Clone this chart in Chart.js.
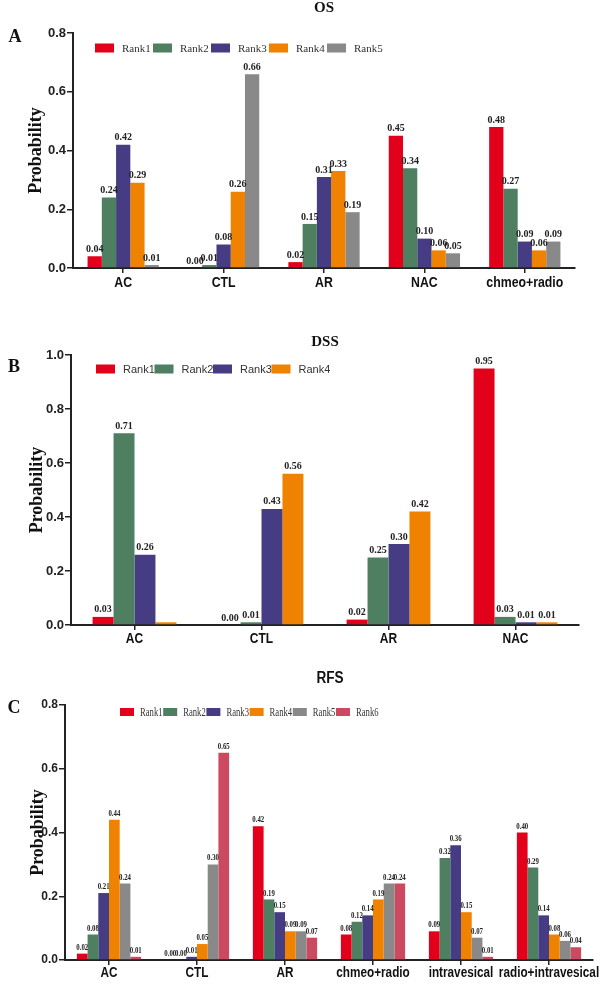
<!DOCTYPE html>
<html lang="en">
<head>
  <meta charset="UTF-8">
  <title>Rank probabilities</title>
  <script src="https://cdn.jsdelivr.net/npm/chart.js@4.4.1/dist/chart.umd.min.js"></script>
  <style>
    body { margin: 0; background: #fff; }
    #page { position: relative; width: 600px; height: 987px; }
    .panel { position: absolute; left: 0; }
  </style>
</head>
<body>
  <div id="page">
    <div class="panel" style="top:0"><canvas id="chartA" width="600" height="300"></canvas></div>
    <div class="panel" style="top:300px"><canvas id="chartB" width="600" height="360"></canvas></div>
    <div class="panel" style="top:660px"><canvas id="chartC" width="600" height="327"></canvas></div>
  </div>

  <script>
    // colours per rank
    const rankColors = ['#E2001A', '#4E7F60', '#463C84', '#EF8200', '#898989', '#CB4A5F'];
    const rankNames = ['Rank1', 'Rank2', 'Rank3', 'Rank4', 'Rank5', 'Rank6'];

    // A - OS
    const osCategories = ['AC', 'CTL', 'AR', 'NAC', 'chmeo+radio'];
    const osRank1 = [0.04, 0.00, 0.02, 0.45, 0.48];
    const osRank2 = [0.24, 0.01, 0.15, 0.34, 0.27];
    const osRank3 = [0.42, 0.08, 0.31, 0.10, 0.09];
    const osRank4 = [0.29, 0.26, 0.33, 0.06, 0.06];
    const osRank5 = [0.01, 0.66, 0.19, 0.05, 0.09];
    const osTicks = [0, 0.2, 0.4, 0.6, 0.8];

    // B - DSS
    const dssCategories = ['AC', 'CTL', 'AR', 'NAC'];
    const dssRank1 = [0.03, 0.00, 0.02, 0.95];
    const dssRank2 = [0.71, 0.01, 0.25, 0.03];
    const dssRank3 = [0.26, 0.43, 0.30, 0.01];
    const dssRank4 = [0.01, 0.56, 0.42, 0.01];
    const dssTicks = [0, 0.2, 0.4, 0.6, 0.8, 1.0];
    const dssNoLabel = [[3, 0]]; // rank4 / AC has no number printed

    // C - RFS
    const rfsCategories = ['AC', 'CTL', 'AR', 'chmeo+radio', 'intravesical', 'radio+intravesical'];
    const rfsRank1 = [0.02, 0.00, 0.42, 0.08, 0.09, 0.40];
    const rfsRank2 = [0.08, 0.00, 0.19, 0.12, 0.32, 0.29];
    const rfsRank3 = [0.21, 0.01, 0.15, 0.14, 0.36, 0.14];
    const rfsRank4 = [0.44, 0.05, 0.09, 0.19, 0.15, 0.08];
    const rfsRank5 = [0.24, 0.30, 0.09, 0.24, 0.07, 0.06];
    const rfsRank6 = [0.01, 0.65, 0.07, 0.24, 0.01, 0.04];
    const rfsTicks = [0, 0.2, 0.4, 0.6, 0.8];

    const SANS = "'Liberation Sans', Arial, sans-serif";
    const SERIF = "'Liberation Serif', 'Times New Roman', serif";

    // draw text squeezed horizontally (the figure uses condensed faces)
    function squeezedText(ctx, text, x, y, sq) {
      ctx.save();
      ctx.translate(x, y);
      ctx.scale(sq || 1, 1);
      ctx.fillText(text, 0, 0);
      ctx.restore();
    }

    // numbers on top of the bars
    const valueLabels = {
      id: 'valueLabels',
      afterDatasetsDraw(chart, args, opts) {
        const ctx = chart.ctx;
        ctx.save();
        ctx.font = opts.font;
        ctx.fillStyle = '#222';
        ctx.textAlign = 'center';
        ctx.textBaseline = 'bottom';
        chart.data.datasets.forEach((ds, i) => {
          chart.getDatasetMeta(i).data.forEach((bar, j) => {
            if ((opts.skip || []).some(s => s[0] === i && s[1] === j)) return;
            squeezedText(ctx, ds.data[j].toFixed(2), bar.x, bar.y - 2, opts.squeeze);
          });
        });
        ctx.restore();
      }
    };

    // panel letter, title, category names and the legend row inside the plot
    const panelDeco = {
      id: 'panelDeco',
      afterDraw(chart, args, o) {
        const ctx = chart.ctx;
        ctx.save();
        ctx.fillStyle = '#111';
        ctx.textBaseline = 'middle';
        ctx.textAlign = 'center';
        ctx.font = 'bold 18px ' + SERIF;
        ctx.fillText(o.letter, o.letterX, o.letterY);
        ctx.font = o.titleFont;
        squeezedText(ctx, o.title, o.titleX, o.titleY, o.titleSqueeze);

        // category names under the tick marks
        const xs = chart.scales.x;
        ctx.font = o.xFont;
        chart.data.labels.forEach((lab, i) => {
          squeezedText(ctx, lab, xs.getPixelForTick(i), xs.top + o.xDy, o.xSqueeze);
        });

        const lg = o.legend;
        ctx.textAlign = 'left';
        ctx.font = lg.font;
        chart.data.datasets.forEach((ds, i) => {
          const x = lg.x + i * lg.step;
          ctx.fillStyle = ds.backgroundColor;
          ctx.fillRect(x, lg.y - lg.boxH / 2, lg.boxW, lg.boxH);
          ctx.fillStyle = '#333';
          squeezedText(ctx, ds.label, x + lg.boxW + lg.gap, lg.y + 1, lg.squeeze);
        });
        ctx.restore();
      }
    };

    function makeDatasets(series) {
      return series.map((data, i) => ({
        label: rankNames[i],
        data: data,
        backgroundColor: rankColors[i],
        borderWidth: 0
      }));
    }

    function drawPanel(id, p) {
      new Chart(document.getElementById(id), {
        type: 'bar',
        data: { labels: p.categories, datasets: makeDatasets(p.series) },
        plugins: [valueLabels, panelDeco],
        options: {
          responsive: false,
          animation: false,
          events: [],
          datasets: { bar: { categoryPercentage: p.catPct, barPercentage: 1 } },
          layout: { padding: p.padding },
          plugins: {
            legend: { display: false },
            tooltip: { enabled: false },
            title: { display: false },
            valueLabels: { font: p.valueFont, squeeze: p.valueSqueeze, skip: p.skip },
            panelDeco: p.deco
          },
          scales: {
            x: {
              grid: { display: true, offset: false, drawOnChartArea: false, drawTicks: true, tickLength: 5, color: '#222', lineWidth: 1.5 },
              border: { display: true, color: '#222', width: 2 },
              ticks: { display: false, autoSkip: false },
              afterFit(scale) { scale.height = p.xHeight; scale.paddingLeft = 0; scale.paddingRight = 0; }
            },
            y: {
              min: 0,
              max: p.ticks[p.ticks.length - 1],
              afterBuildTicks(scale) { scale.ticks = p.ticks.map(v => ({ value: v })); },
              grid: { display: true, drawOnChartArea: false, drawTicks: true, tickLength: 6, color: '#222', lineWidth: 1.5 },
              border: { display: true, color: '#222', width: 2 },
              ticks: {
                color: '#222',
                font: { family: SANS, size: p.yFontSize, weight: 'bold' },
                padding: 1,
                callback: v => Number(v).toFixed(1)
              },
              title: {
                display: true,
                text: 'Probability',
                color: '#111',
                font: { family: SERIF, size: 18, weight: 'bold' },
                padding: 0
              },
              afterFit(scale) { scale.width = p.yWidth; }
            }
          }
        }
      });
    }

    drawPanel('chartA', {
      categories: osCategories,
      series: [osRank1, osRank2, osRank3, osRank4, osRank5],
      ticks: osTicks,
      catPct: 0.71,
      padding: { left: 26, right: 25, top: 33, bottom: 2 },
      yWidth: 47, xHeight: 30, yFontSize: 13,
      valueFont: 'bold 10px ' + SERIF,
      deco: {
        letter: 'A', letterX: 15, letterY: 37,
        title: 'OS', titleX: 324, titleY: 8, titleFont: 'bold 15px ' + SERIF,
        xFont: 'bold 15px ' + SANS, xDy: 15, xSqueeze: 0.82,
        legend: { x: 95, y: 48, step: 58, boxW: 19, boxH: 9, gap: 8, font: '11px ' + SERIF }
      }
    });

    drawPanel('chartB', {
      categories: dssCategories,
      series: [dssRank1, dssRank2, dssRank3, dssRank4],
      ticks: dssTicks,
      catPct: 0.66,
      padding: { left: 27, right: 21, top: 55, bottom: 5 },
      yWidth: 44, xHeight: 30, yFontSize: 13,
      valueFont: 'bold 10px ' + SERIF,
      skip: dssNoLabel,
      deco: {
        letter: 'B', letterX: 14, letterY: 67,
        title: 'DSS', titleX: 325, titleY: 42, titleFont: 'bold 15px ' + SERIF,
        xFont: 'bold 15px ' + SANS, xDy: 14, xSqueeze: 0.8,
        legend: { x: 96, y: 69, step: 58.5, boxW: 19, boxH: 9, gap: 8, font: '11px ' + SANS }
      }
    });

    drawPanel('chartC', {
      categories: rfsCategories,
      series: [rfsRank1, rfsRank2, rfsRank3, rfsRank4, rfsRank5, rfsRank6],
      ticks: rfsTicks,
      catPct: 0.73,
      padding: { left: 28, right: 7, top: 45, bottom: 3 },
      yWidth: 37, xHeight: 24, yFontSize: 12,
      valueFont: 'bold 8px ' + SERIF, valueSqueeze: 0.85,
      deco: {
        letter: 'C', letterX: 14, letterY: 48,
        title: 'RFS', titleX: 330, titleY: 19, titleFont: 'bold 16px ' + SANS, titleSqueeze: 0.85,
        xFont: 'bold 14px ' + SANS, xDy: 13, xSqueeze: 0.84,
        legend: { x: 120, y: 52, step: 43.2, boxW: 14, boxH: 8, gap: 6, font: '12px ' + SERIF, squeeze: 0.72 }
      }
    });
  </script>
</body>
</html>
